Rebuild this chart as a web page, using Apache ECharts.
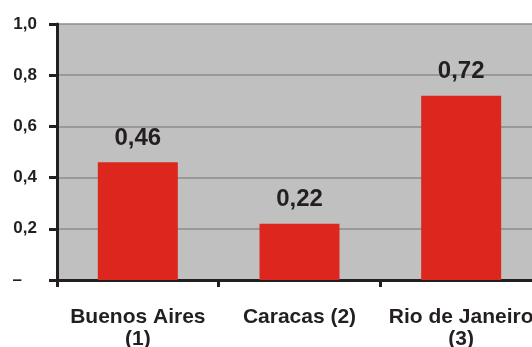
<!DOCTYPE html>
<html>
<head>
<meta charset="utf-8">
<script src="https://cdn.jsdelivr.net/npm/echarts@6/dist/echarts.min.js"></script>
<style>
  html, body { margin: 0; padding: 0; background: #ffffff; overflow: hidden; }
  #chart { width: 532px; height: 347px; }
</style>
</head>
<body>
<div id="chart"></div>
<script>
// Cities compared and their values
const categories = ['Buenos Aires\n(1)', 'Caracas (2)', 'Rio de Janeiro\n(3)'];
const values = [0.46, 0.22, 0.72];
// Y-axis range and step
const yMin = 0;
const yMax = 1.0;
const yStep = 0.2;

const fmtComma = (v, digits) => v.toFixed(digits).replace('.', ',');
const font = 'Liberation Sans, Arial, Helvetica, sans-serif';
const ink = '#231f20';

// The plot runs slightly past the right edge of the canvas, so the grid is not fitted to it.
const chart = echarts.init(document.getElementById('chart'), null, { renderer: 'canvas' });
chart.setOption({
  animation: false,
  backgroundColor: '#ffffff',
  grid: {
    left: 57,
    top: 24,
    width: 485,
    height: 256,
    outerBoundsMode: 'none',
    containLabel: false,
    show: true,
    backgroundColor: '#c0c0c0',
    borderWidth: 0
  },
  xAxis: {
    type: 'category',
    data: categories,
    boundaryGap: true,
    axisLine: { show: true, lineStyle: { color: ink, width: 3 } },
    axisTick: { show: true, length: 7, lineStyle: { color: ink, width: 3 } },
    axisLabel: {
      interval: 0,
      margin: 26,
      color: ink,
      fontFamily: font,
      fontWeight: 'bold',
      fontSize: 21,
      lineHeight: 22,
      verticalAlign: 'top'
    },
    splitLine: { show: false }
  },
  yAxis: {
    type: 'value',
    min: yMin,
    max: yMax,
    interval: yStep,
    axisLine: { show: true, lineStyle: { color: ink, width: 3 } },
    axisTick: { show: true, length: 8, lineStyle: { color: ink, width: 3 } },
    axisLabel: {
      margin: 20,
      color: ink,
      fontFamily: font,
      fontWeight: 'bold',
      fontSize: 17,
      formatter: v => (v === 0 ? '{z|–}' : fmtComma(v, 1)),
      rich: {
        z: { fontFamily: font, fontWeight: 'bold', fontSize: 17, color: ink, padding: [0, 15, 0, 0] }
      }
    },
    splitLine: { show: true, lineStyle: { color: '#8c8c8c', width: 1.5 } }
  },
  series: [{
    type: 'bar',
    data: values,
    barWidth: 80,
    itemStyle: { color: '#dc261e' },
    label: {
      show: true,
      position: 'top',
      distance: 12,
      color: ink,
      fontFamily: font,
      fontWeight: 'bold',
      fontSize: 24,
      formatter: p => fmtComma(p.value, 2)
    }
  }]
});
</script>
</body>
</html>
